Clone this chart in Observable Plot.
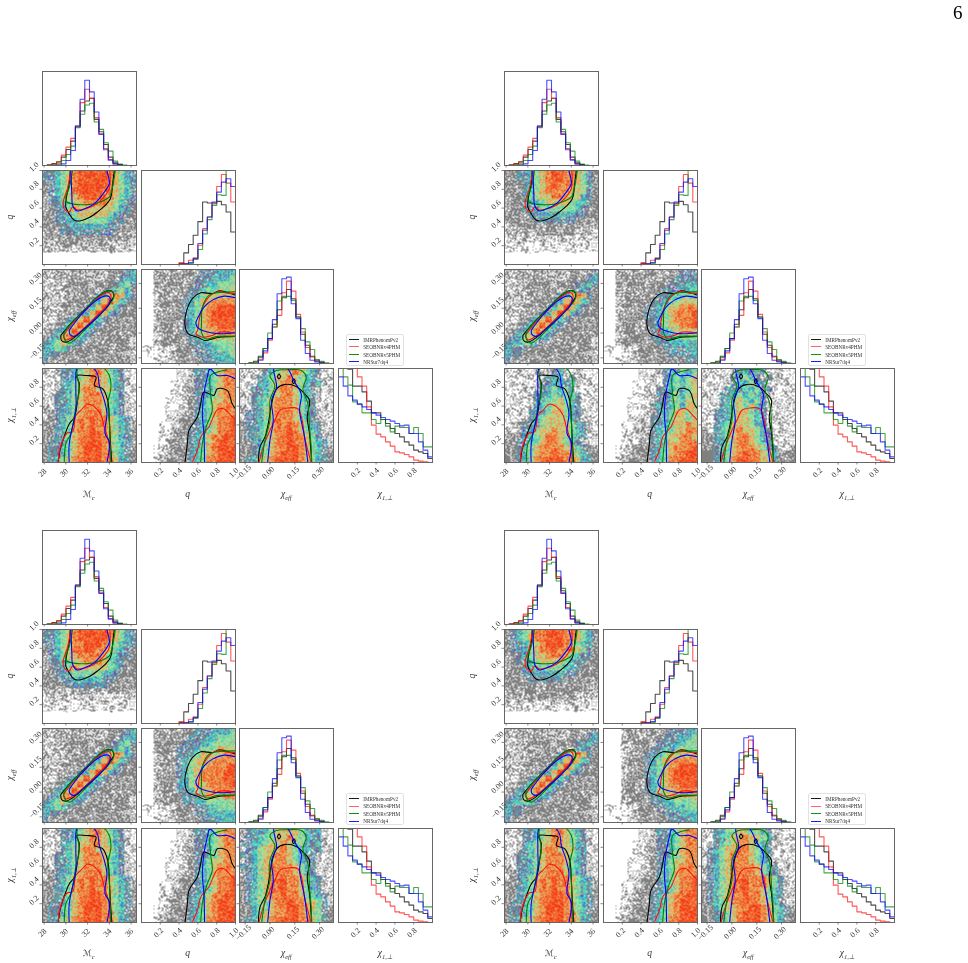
<!DOCTYPE html>
<html><head><meta charset="utf-8">
<script src="https://cdn.jsdelivr.net/npm/d3@7"></script>
<script src="https://cdn.jsdelivr.net/npm/@observablehq/plot@0.6"></script>
<style>
html,body{margin:0;padding:0;background:#fff;}
#page{position:relative;width:968px;height:963px;overflow:hidden;font-family:"Liberation Serif",serif;color:#222;filter:blur(0.3px);}
#page svg{position:absolute;background:transparent;overflow:visible;}
.lab{position:absolute;font-size:9.5px;font-style:italic;white-space:nowrap;transform:translate(-50%,-50%);color:#333;}
.lab.v{transform:translate(-50%,-50%) rotate(-90deg);}
.lab sub{font-size:6.5px;line-height:0;}
.lab .script{font-family:"DejaVu Sans",sans-serif;font-style:normal;font-size:8.5px;}
.legend{position:absolute;width:56px;height:30px;border:1px solid #e2e2e2;border-radius:2px;background:#fff;box-sizing:content-box;}
.legend div{position:absolute;left:16.5px;font-size:5.2px;line-height:6px;white-space:nowrap;color:#333;}
.legend span{position:absolute;left:2px;width:10px;height:1px;}
#pn{position:absolute;left:953px;top:2px;font-size:19px;color:#000;}
</style></head><body><div id="page"><div id="pn">6</div></div>
<script>
// ---------- series ----------
const seriesNames = ["IMRPhenomPv2","SEOBNRv4PHM","SEOBNRv5PHM","NRSur7dq4"];
const seriesColors = ["#000000","#ff1010","#008000","#0000ff"];

// ---------- histograms (20 bins, heights) ----------
const histMc_black = [0,2,6,11,25,48,73,115,163,193,201,138,101,63,25,8,3,0,0,0];
const histMc_red   = [0,1,4,10,31,55,81,118,188,228,201,143,95,51,18,5,1,0,0,0];
const histMc_green = [0,0,2,5,15,33,58,113,153,181,186,130,108,68,43,13,4,1,0,0];
const histMc_blue  = [0,0,0,1,5,15,45,118,198,255,220,160,93,47,16,5,1,0,0,0];

const histQ_black = [0,0,0,0,0,0,0,0,3,35,60,88,129,188,185,185,190,180,158,98];
const histQ_red   = [0,0,0,0,0,0,0,0,6,3,13,20,58,108,143,183,235,271,245,188];
const histQ_green = [0,0,0,0,0,0,0,0,0,0,3,15,45,92,135,178,210,208,400,400];
const histQ_blue  = [0,0,0,0,0,0,0,0,0,2,6,18,63,103,143,188,218,248,258,235];

const histE_black = [0,0,2,7,22,45,75,118,162,198,223,195,140,88,55,22,10,4,0,0];
const histE_red   = [0,0,0,2,13,32,70,110,145,213,248,218,148,95,48,20,7,2,0,0];
const histE_green = [0,0,2,4,18,45,92,110,188,202,202,190,140,105,65,42,12,7,2,0];
const histE_blue  = [0,0,0,0,10,38,75,132,210,255,260,180,135,70,30,10,5,2,0,0];

const histP_black = [290,285,280,229,229,212,184,149,149,129,117,102,87,77,62,52,37,32,27,12];
const histP_red   = [400,400,400,400,257,229,167,112,85,77,62,49,32,29,24,17,7,4,2,0];
const histP_green = [300,257,232,182,175,149,149,129,117,129,109,92,109,105,105,87,105,87,47,47];
const histP_blue  = [257,229,200,187,175,167,159,149,142,135,129,124,117,110,112,87,87,62,37,17];

// ---------- 90% contours, same in all four figures ----------
const cMcQ_black = [[30.4,1],[30.31,.86],[30.06,.72],[30,.61],[30.31,.54],[30.77,.47],[31.38,.466],[32.15,.5],[32.92,.56],[33.54,.62],[34.09,.7],[34.25,.79],[34.34,.89],[34.46,1]];
const cMcQ_red = [[30.46,1],[30.15,.81],[29.75,.66],[29.85,.59],[30.31,.56],[30.62,.61],[31.08,.58],[31.69,.59],[32.62,.63],[33.38,.7],[34,.81],[34.06,.965],[34.03,1]];
const cMcQ_green = [[30.62,1],[30.31,.82],[30,.72],[30.09,.665],[31.38,.636],[32.62,.647],[34,.72],[34.22,.79],[34.46,.93],[34.55,1]];
const cMcQ_blue = [[30.46,1],[30.55,.75],[30.62,.63],[31.02,.57],[31.69,.59],[32.62,.647],[33.54,.77],[34,.86],[33.85,.965],[33.78,1]];

const cQE_black = [[1,.229],[.915,.245],[.826,.255],[.755,.239],[.63,.243],[.543,.209],[.482,.138],[.461,.057],[.496,-.004],[.596,-.025],[.674,-.045],[.755,-.035],[.826,-.025],[1,-.02]];
const cQE_red = [[1,.239],[.897,.243],[.826,.253],[.738,.229],[.649,.158],[.613,.077],[.596,.016],[.578,-.004],[.649,-.025],[.755,-.014],[.844,.006],[1,0]];
const cQE_green = [[1,.249],[.826,.245],[.72,.229],[.649,.158],[.638,.057],[.638,.006],[.684,-.035],[.809,-.02],[1,-.02]];
const cQE_blue = [[1,.213],[.879,.223],[.755,.199],[.667,.158],[.613,.107],[.578,.057],[.613,.026],[.738,.002],[.844,-.004],[1,.002]];

const cMcE_black = [[29.54,-.014],[30.46,.057],[31.69,.138],[32.92,.219],[33.78,.255],[34.22,.253],[34.4,.223],[33.85,.168],[32.77,.097],[31.69,.026],[30.62,-.035],[30,-.055],[29.6,-.045],[29.54,-.014]];
const cMcE_red = [[29.78,-.014],[30.62,.057],[31.85,.138],[33.08,.219],[33.91,.245],[34.15,.229],[34,.188],[32.92,.107],[31.69,.03],[30.62,-.025],[30,-.041],[29.78,-.014]];
const cMcE_green = [[29.85,.006],[30.62,.067],[31.85,.148],[33.08,.229],[34,.255],[34.4,.239],[34.31,.199],[33.23,.117],[31.85,.026],[30.92,-.035],[30.31,-.061],[29.85,-.035],[29.85,.006]];
const cMcE_blue = [[30.31,.016],[31.23,.097],[32.62,.188],[33.54,.223],[34,.219],[34,.178],[32.92,.097],[31.69,.026],[30.77,-.02],[30.37,-.008],[30.31,.016]];

const cMcP_black = [[29.3,0],[29.46,.13],[30,.325],[30.31,.41],[30.77,.48],[31.08,.66],[31.23,.84],[31.02,.925],[31.85,.925],[32.77,.91],[32.62,.82],[33.38,.785],[33.85,.66],[34,.45],[34.09,.237],[34.22,0]];
const cMcP_red = [[29.29,0],[29.42,.13],[29.85,.27],[30.15,.316],[30.62,.325],[30.92,.5],[31.38,.555],[32,.62],[32.62,.594],[33.23,.505],[33.54,.378],[33.91,.237],[34.09,0]];
const cMcP_green = [[29.85,0],[30,.2],[30.46,.31],[30.92,.59],[31.23,.77],[31.02,.98],[31.2,1.01],[33.38,1.01],[34,.925],[34.15,.8],[33.85,.62],[34,.45],[34.06,.237],[34.15,0]];
const cMcP_blue = [[30.31,0],[30.31,.2],[30.92,.555],[30.92,.8],[31.08,1.01],[32.46,1.01],[32.92,.94],[33.08,.82],[33.54,.66],[33.78,.52],[33.6,.31],[34,.22],[33.78,0]];

const cQP_black = [[.463,0],[.488,.2],[.505,.343],[.594,.484],[.63,.625],[.664,.749],[.77,.714],[.806,.784],[.912,.767],[.965,.625],[1,.572]];
const cQP_red = [[.54,0],[.594,.13],[.63,.27],[.67,.325],[.717,.378],[.77,.5],[.806,.56],[.876,.572],[.947,.505],[1,.449]];
const cQP_green = [[.63,0],[.647,.2],[.67,.307],[.7,.413],[.753,.555],[.735,.731],[.735,.926],[.806,.961],[.912,.986]];
const cQP_blue = [[.671,0],[.664,.307],[.647,.519],[.664,.731],[.7,.908],[.728,.996],[.806,.926],[.912,.926],[1,.89]];

const cEP_black = [[-.07,0],[-.06,.166],[-.03,.272],[-.01,.413],[.01,.625],[.04,.784],[.089,.83],[.159,.809],[.209,.731],[.239,.661],[.225,.484],[.239,.307],[.252,0]];
const cEP_black2 = [[.045,.915],[.054,.94],[.064,.915],[.054,.89],[.045,.915]];
const cEP_black3 = [[.135,.865],[.143,.89],[.153,.865],[.143,.84],[.135,.865]];
const cEP_red = [[-.066,0],[-.04,.166],[0,.343],[.03,.449],[.06,.555],[.11,.58],[.169,.572],[.195,.449],[.209,.272],[.239,.06],[.249,0]];
const cEP_green = [[-.05,0],[-.03,.237],[0,.449],[0,.661],[.03,.82],[0,.926],[.04,.979],[.109,.986],[.189,.979],[.219,.908],[.199,.784],[.229,.625],[.239,.378],[.249,.166],[.252,0]];
const cEP_blue = [[-.014,0],[0,.237],[.02,.449],[.01,.661],[.04,.802],[.026,1.01],[.099,1.01],[.149,.855],[.189,.731],[.179,.555],[.209,.272],[.229,0]];

// ---------- sample density read per panel, coarse 16 x 16 (rows from the top) ----------
const d1A=["bbcgtorrrrrotgcb","bbcgtorrrrrotgcb","#bcgtorrrrrotgcb","#bcgtorrrrootgcb","#bcgttorrrootgcb","#bbcgttooootgcbb","##bcgtttttttgcb#","##bbcgtttttgcbb#","##bbccgggggcbb##","###bbccccccbb###",":##bbbbbbbbb###:",":##############:",":::###:::##:::::",":::::::::::::::,","................","................"];
const d1B=["..:#:#:###bbbccc","..:#:##:#bbbcccg","..#:###:#bbccggg","..:####:bbcggggt","..:###:#bcgttttt","..:####bcgttoooo","..:####bcgtoorrr","..:####bcgtorrrr","..:####bcgtorrrr","..:####bcgtoorrr","..:####bcgttoooo","..:#####bcgttttt","..:#####bbccgggg",",,,,,:###bbccggg",".,,,,:###bbbcccg","..,,,:####bbbccc"];
const d1C=[":::#:##::::###bc",":::::###:::##bcc","::::####:###bcgb","::::#####:#bcgc#","::::#####bctotcb","::::####bctrtcb#",":::####bctrtcb##",":::###bctrtcb###",":::#bctrtcb#####","::#bctrtcb######",":#bctrtcb#######","#bctotcb#######:","bcgtgcb########:","ccgcb##########:","cbb###########::","b#:###########::"];
const d1D=[":,:bbcgtootgcb:,",",:,bbcgtootgcb:,",":,:bcgttootgcb:,",":,:bcgtootttcb,:",",:bbcgtoootgcb:,",":,bbcgtoootgcb:,",":,bbcgtoootgcb,:",":#bbcgtoootgcb:,",":#bcgtoorootgcb:","##bcgtoorootgcb:","##bcgtoorootgcb#","##bcgtoorrotgcb#","#bbcgtorrrotgcb#","#bbcgtorrrotgcb#","#bbcgtorrroogcb#","#bcgtoorrrootcb#"];
const d1E=["......,,:bbcgtoo","......,,:bbcgtoo",".....,,::bbcgtoo",".....,,:#bbcgtoo",".....,,:#bbcgtoo","....,,,:#bcgttoo","....,.,:#bcgtooo","....,,::#bcgtooo","....,,:##bcgtoor","...,.,:##bcgtoor","...,,:##bbcgtoor","...,,:##bcgtoorr","...,:###bcgtorrr","..,,:###bcgtorrr","..,::###bcgtorrr","..,:####bcgoorrr"];
const d1F=[",:,:bcgttotgcb:,",":,:bcgttotgcb:,:",",:,bcgtootgcbc:,",",:bbcgtootgcb:,:",":,bbcgtootgcb:,:",",:bcgtoootgcb:,,",":,bcgtoootgcb,:,",":bbcgtoootgcb:,:",":bbcgtoootgcb:,,","#bbcgtoorotgcb:,","#bbcgtoorotgcb,:","#bbcgtoorootgb::","##bcgtoorootgcb:","##bcgtoorrotgcb:","##bcgtorrrotgcb#","#bcgtorrrrotgcb#"];

const d2A=["##bbcgtorrootgb#","##bbcgtorrootgb#","###bcgtoroootgb#","###bcgtoooottgb#","###bcgttootttcb#","###bccgttttgccb#","###bbcggggggcb##","####bbccccccbb##","#####bbbbbbb####","::###########:::",":::#::###:##:::,",",:,:,::,,:,:,:,,",",,:,,,:,,,,:,,,,",",,,,,,,,,,,,,,,,","................","................"];
const d2B=["..:#:#:###:#:bbb","..:#:##:#:##bbbb","..#:###:###bbbcc","..:####:##bbbccc","..:###:##bbccggg","..:#####bbcggttt","..:####bbcgttooo","..:####bbcgtooor","..:####bbcgtooor","..:#####bcgttoor","..:#####bbcgtttt","..:#####bbccgggg","..:######bbccccc",",,.,,:####bbbbcc",".,.,,:#####bbbbc","..,,,:########bb"];
const d2C=[":::#:##::::##:#b",":::::###:::###bc","::::####:###bbcb","::::#####:##bcb#","::::#####bctotb#","::::####bctotcb#",":::####bctrtcb##",":::###bctrtcb###",":::#bctrtcb#####","::#bctrtcb######",":#bctotcb#######","#bcgtgcb#######:","bccgcb#########:","cbbb###########:","cbb###########::","b#:###########::"];
const d2D=[",,:,,:::bc:,:,,,",",:,,:,:bcc:b,:,,",",:,,,:bbccbc:,:,",":,,:,:bcgcgb:,,,",",:,,:bbcgcgcb,:,",",,:,:bcggtgcb,,:",",:,,:bcgttgcb,,,",":,:,bbcgttgcb:,,",",:,:bcgtttgcb,:,",",:#bbcgttttgcb:,",":,#bcgttottgcb:,",":##bcgtootggcb,:","##bbcgtootgcb:,,","##bcgtoooottcb#:","##bcgtoorootgcb#","=#bcgoorrrootcb#"];
const d2E=["......,,,:bcbgcg","......,,:,bcgcgt",".....,.,:,bcgcgt",".....,,:,bbcgcgt",".....,,::bbcgcgt","....,.,,:bbcgctt","....,,,:bcbcgctt","....,.,:#bcgttgt","....,,:,bbcgttgt","...,.,::bbcgttot","...,,:::bcggttoo","...,,,:#bcgttoot","...,:,##bcgttooo","..,,:###bcgtooor","..,::###bcgtoorr","..,:####bcgoorrr"];
const d2F=[",:,,,:bcbcb:,:,,",":,,:,bcgcb:b,:,,",",:,,:bccgcb:,,:,",",,:,bbcgcgbb:,,,",":,,bbcgcgcb:,,:,",",:,bcgtgcgb:,,,:",",,:bcgtgtcb:,:,,",",:bbcgttgcb:,,,:",":,bbcgttgcb,:,,,",":,bcgtttgcb:,:,,","#,bcgtottgcb,:,,","##bcgtootgcb:,,,","##bcgtootgcb,,:,","##bcgtoootgcb:,#","==bcgtorootgc###","==bcgorroottb###"];

const d3A=["bbcgtorrrrrotgcb","bbcgtorrrrrotgcb","bbcgtoorrroggcbb","#bcgtoorrootgcb#","#bcgttooootgcbb#","#bbcgttoootgcb##","##bcgttttttgcb##","##bbcgggggccb###","###bbcccccbb####","####bbbbbbb#####",":::::###:#:###::",",:,:,::,:,:,:,:,",",:,,:,,:,,:,,:,,",",,,:,,,,:,,,,:,,","................","................"];
const d3B=["..:#:#:##bbbcccg","..:#:##:bbbccggg","..#:###bbbccgggg","..:###bbbcgggttt","..:##:bbcgttttoo","..:###bcgtttoooo","..:###bcgttoooor","..:###bcgtoooorr","..:###bcgtoooorr","..:###bcgttoooor","..:###bbcgttoooo","..:####bbcgtttoo","..:####bbccggggg",",,,,,:###bbccggg",".,,,,:###bbccccc","..,,,:####bbbccc"];
const d3F=[":bcbcgttttgcbc:,",":bbcggttotgcbb:,","bbccgttotggcbc:,",":bcgtttotgccbb::","bbcgttootgcbb:,:",":bcgttootgcbb:,:","bbcgtooootgcb:,:",":bcgtooootgcb,:,","#bcgtoorootgcb:,","#bcgtoorootgcb:,","#bcgtoorootgcb,:","#bcgtoorootggcb:","#bcggtooroottgb:","##cggtoorrottgb#","##cgttoorrotggb#","#bcgtoorrrootgb#"];

const d4A=["#bcgtoorrrootgc#","#bcgtoorrrootgc#","#bbcgtorrroggcb#","#bbcgtooroootgb#","##bcgttoootgcbb#","##bbcgttttgcbb##","###bcgggggccb###","###bbcccccbb####","####bbbbbb######","##############::",":##############:","::#:###:##:#:::,",":,:,::,,:,::,:,,",",,:,,,,:,,,,:,,,","................","................"];
const d4B=["...:#:#:###bbbcc","...:##:###bbbccg","...#:###:bbbccgg","...:####bbccgggg","...:###bbcgttttt","...:###bcgttoooo","...:###bcgtoorrr","...:###bcgtorrrr","...:###bcgtorrrr","...:###bcgtoorrr","...:###bcgttoooo","...:####bcgttttt","...:####bbccgggg",",,,.,:###bbcccgg",".,.,,:####bbbccc","..,.,:#####bbbbc"];
const d4F=[",:bcggttggcb,:,,",":,bcgttottgc:,,:",",:bcgtootgcb,:,,",":bcgttootgcb:,,:",":bcgtoootgcb,:,,",",bcgtoootgcb:,:,",":bcgtooootgcb,:,",":bcgtooootgcb:,,",":bcgtooroootgb:,","#bcgtooroootgb:,","#bcgtoorootgcb,:","#bcgtoorootgcb:,","#bcgtoorootgcb,:","##cgttoorrotgcb:","##bcgtorrrotgcb#","=#bcgtorrrotgc##"];

// ---------- tick labels ----------
const ticksMc=[28,30,32,34,36], labelsMc=["28","30","32","34","36"];
const ticksQ=[.2,.4,.6,.8,1], labelsQ=["0.2","0.4","0.6","0.8","1.0"];
const ticksE=[-.15,0,.15,.3], labelsE=["−0.15","0.00","0.15","0.30"];
const ticksP=[.2,.4,.6,.8], labelsP=["0.2","0.4","0.6","0.8"];

// ---------- tables built from the arrays ----------
const vars = {
  Mc:{domain:[27.85,36.5],ticks:ticksMc,labels:labelsMc,top:281,hist:[histMc_black,histMc_red,histMc_green,histMc_blue]},
  Q:{domain:[0,1],ticks:ticksQ,labels:labelsQ,top:283,hist:[histQ_black,histQ_red,histQ_green,histQ_blue]},
  E:{domain:[-.184,.384],ticks:ticksE,labels:labelsE,top:283,hist:[histE_black,histE_red,histE_green,histE_blue]},
  P:{domain:[0,1],ticks:ticksP,labels:labelsP,top:282,hist:[histP_black,histP_red,histP_green,histP_blue]}
};
const order=["Mc","Q","E","P"];
const contours={
  "Mc-Q":[[cMcQ_black],[cMcQ_red],[cMcQ_green],[cMcQ_blue]],
  "Q-E":[[cQE_black],[cQE_red],[cQE_green],[cQE_blue]],
  "Mc-E":[[cMcE_black],[cMcE_red],[cMcE_green],[cMcE_blue]],
  "Mc-P":[[cMcP_black],[cMcP_red],[cMcP_green],[cMcP_blue]],
  "Q-P":[[cQP_black],[cQP_red],[cQP_green],[cQP_blue]],
  "E-P":[[cEP_black,cEP_black2,cEP_black3],[cEP_red],[cEP_green],[cEP_blue]]
};
const figures=[
  {dx:0,dy:0,dens:{"Mc-Q":d1A,"Q-E":d1B,"Mc-E":d1C,"Mc-P":d1D,"Q-P":d1E,"E-P":d1F}},
  {dx:462,dy:0,dens:{"Mc-Q":d2A,"Q-E":d2B,"Mc-E":d2C,"Mc-P":d2D,"Q-P":d2E,"E-P":d2F}},
  {dx:0,dy:459.3,dens:{"Mc-Q":d3A,"Q-E":d3B,"Mc-E":d1C,"Mc-P":d1D,"Q-P":d1E,"E-P":d3F}},
  {dx:462,dy:459.3,dens:{"Mc-Q":d4A,"Q-E":d4B,"Mc-E":d2C,"Mc-P":d1D,"Q-P":d1E,"E-P":d4F}}
];
const palette=["#ffffff","#808080","#5a4bd6","#3cc6c8","#8fe8a4","#dcc272","#f28a44","#f23c1a"];
const dither={".":[0,0,0,0,0,0,0,0],",":[1,0,0,0,0,0,1,0],":":[1,0,0,1,1,0,1,0],"#":[1,1,1,0,1,1,0,1],"=":[1,1,1,1,1,1,1,1],
  "b":[1,1,0,3,1,1,3,2],"c":[3,3,4,1,3,3,4,2],"g":[4,4,3,5,4,5,4,3],"t":[5,4,5,6,5,4,5,6],"o":[6,5,6,7,6,5,7,6],"r":[7,6,7,6,7,7,6,7]};

const colLeft=[41.7,140.7,239.3,338.3], rowTop=[70.7,170,269,368.3], size=94;
const mL=30,mT=4,mR=4,mB=30;
const page=document.getElementById("page");
const tickFont={fontSize:8,fontFamily:"Liberation Serif",fill:"#333"};
const walk=Plot.interpolatorRandomWalk({maxSteps:2,minDistance:0.5});

// each read density cell is shown as 6 x 6 samples; the fixed pattern only sets the grain of the speckle
const sub=6;
function decode(grid,dX,dY){
  const out=[];
  grid.forEach((row,r)=>{
    for(let c=0;c<16;c++){
      const m=dither[row[c]]||dither["."];
      for(let a=0;a<sub;a++)for(let b=0;b<sub;b++){
        const i=c*sub+a,j=r*sub+b;
        const h=((i*i*13+j*j*7+i*j*5+i*3+j*11)%251)%8;
        out.push({x:dX[0]+(c+(a+.5)/sub)/16*(dX[1]-dX[0]),y:dY[1]-(r+(b+.5)/sub)/16*(dY[1]-dY[0]),v:m[h]});
      }
    }
  });
  return out;
}
function stepData(h,dom){
  const w=(dom[1]-dom[0])/h.length;
  return [...h,h[h.length-1]].map((v,i)=>({x:dom[0]+i*w,y:v}));
}
function axisMarks(ci,ri,vx,vy){
  const m=[];
  m.push(Plot.tickX(vx.ticks,{x:d=>d,frameAnchor:"bottom",y:null,stroke:"#555",strokeWidth:.7,insetTop:size,insetBottom:-2.5}));
  if(ri===3) m.push(Plot.text(vx.ticks,{x:d=>d,frameAnchor:"bottom",dy:12,rotate:-45,text:(d,i)=>vx.labels[i],...tickFont}));
  if(vy){
    m.push(Plot.tickY(vy.ticks,{y:d=>d,stroke:"#555",strokeWidth:.7,insetLeft:-2.5,insetRight:size}));
    if(ci===0) m.push(Plot.text(vy.ticks,{y:d=>d,frameAnchor:"left",dx:-12,rotate:-45,text:(d,i)=>vy.labels[i],...tickFont}));
  }
  return m;
}
function place(svg,left,top){svg.style.left=(left-mL)+"px";svg.style.top=(top-mT)+"px";page.appendChild(svg);}

figures.forEach(fig=>{
  for(let ri=0;ri<4;ri++)for(let ci=0;ci<=ri;ci++){
    const vx=vars[order[ci]];
    let marks,opts;
    if(ci===ri){
      marks=vx.hist.map((h,s)=>Plot.line(stepData(h,vx.domain),{x:"x",y:"y",curve:"step-after",stroke:seriesColors[s],strokeWidth:1.1,strokeOpacity:.7,clip:true}));
      marks.push(Plot.frame({stroke:"#666",strokeWidth:1}),...axisMarks(ci,ri,vx,null));
      opts={y:{domain:[0,vx.top],axis:null}};
    }else{
      const vy=vars[order[ri]], key=order[ci]+"-"+order[ri];
      marks=[Plot.raster(decode(fig.dens[key],vx.domain,vy.domain),{x:"x",y:"y",fill:"v",interpolate:walk,pixelSize:1,imageRendering:"auto"})];
      contours[key].forEach((parts,s)=>parts.forEach(p=>marks.push(
        Plot.line(p,{x:d=>d[0],y:d=>d[1],stroke:seriesColors[s],strokeWidth:1.1,clip:true,curve:"catmull-rom"}))));
      marks.push(Plot.frame({stroke:"#666",strokeWidth:1}),...axisMarks(ci,ri,vx,vy));
      opts={y:{domain:vy.domain,axis:null},color:{type:"ordinal",domain:palette.map((_,i)=>i),range:palette}};
    }
    const svg=Plot.plot({width:size+mL+mR,height:size+mT+mB,marginLeft:mL,marginTop:mT,marginRight:mR,marginBottom:mB,
      x:{domain:vx.domain,axis:null},...opts,marks,style:{background:"transparent",overflow:"visible"}});
    place(svg,fig.dx+colLeft[ci],fig.dy+rowTop[ri]);
  }
  // axis titles
  const xs=[['<span class="script">ℳ</span>','c'],['q',''],['χ','eff'],['χ','1,⊥']];
  xs.forEach(([a,b],i)=>{
    const el=document.createElement("div");el.className="lab";
    el.innerHTML=a+(b?"<sub>"+b+"</sub>":"");
    el.style.left=(fig.dx+colLeft[i]+size/2)+"px";el.style.top=(fig.dy+494)+"px";page.appendChild(el);
    if(i>0){
      const yl=document.createElement("div");yl.className="lab v";
      yl.innerHTML=el.innerHTML;
      yl.style.left=(fig.dx+10)+"px";yl.style.top=(fig.dy+rowTop[i]+size/2)+"px";page.appendChild(yl);
    }
  });
  // legend
  const lg=document.createElement("div");lg.className="legend";
  lg.style.left=(fig.dx+345.7)+"px";lg.style.top=(fig.dy+334)+"px";
  seriesNames.forEach((n,i)=>{
    const y=2.6+i*7.45;
    const ln=document.createElement("span");ln.style.top=(y+1.4)+"px";ln.style.background=seriesColors[i];ln.style.opacity=i===1?.65:.9;
    const tx=document.createElement("div");tx.textContent=n;tx.style.top=(y-1)+"px";
    lg.append(ln,tx);
  });
  page.appendChild(lg);
});
</script></body></html>
